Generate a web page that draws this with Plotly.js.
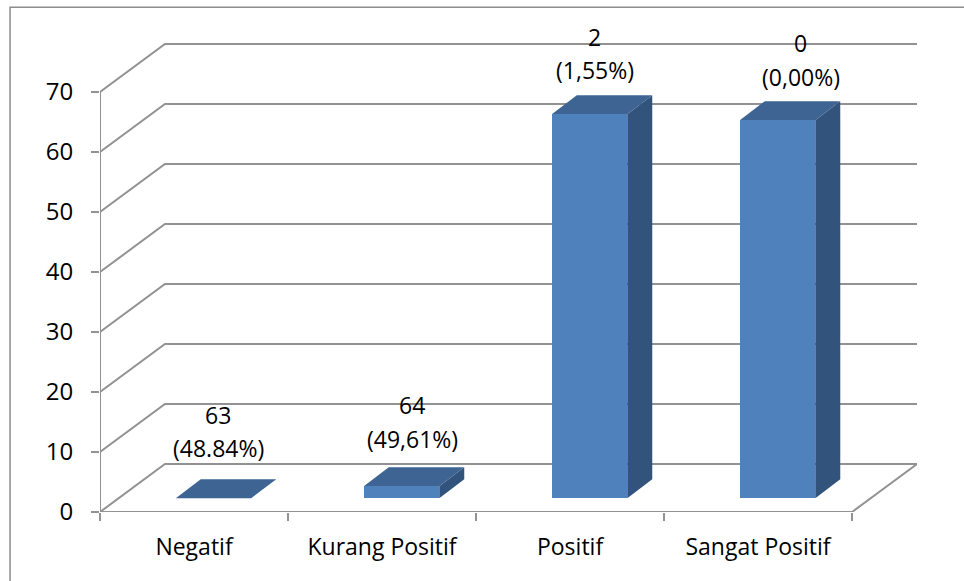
<!DOCTYPE html>
<html>
<head>
<meta charset="utf-8">
<script src="https://cdn.plot.ly/plotly-3.0.1.min.js"></script>
<style>html,body{margin:0;padding:0;background:#fff}</style>
</head>
<body>
<div id="chart" style="width:964px;height:581px"></div>
<script>
// Data
const categories = ["Negatif", "Kurang Positif", "Positif", "Sangat Positif"];
const values = [0, 2, 64, 63];
const countLabels = ["63", "64", "2", "0"];
const percentLabels = ["(48.84%)", "(49,61%)", "(1,55%)", "(0,00%)"];
const gridValues = [0, 10, 20, 30, 40, 50, 60, 70];

// Appearance of the drawn pseudo-3D box (axis units)
const wallDx = 0.3455, wallDy = 8;      // depth of the back wall
const barDx = 0.133, barDy = 3.17;      // depth of a bar
const barBase = 2.3, barWidth = 0.4014, barOffset = -0.097;
const labelDx = [0.129, 0.161, 0.132, 0.226]; // label offset from category centre
const countDy = [16.15, 17.85, 79.15, 78.15];     // label height, axis units
const percentDy = [10.65, 12.15, 73.65, 72.55];
const lineColor = "#929292", front = "#4f81bd", topFace = "#3d6492", sideFace = "#32537b";
const textFont = "'Open Sans', sans-serif";

const traces = [];
// gridlines with their receding side-wall segment
gridValues.forEach(v => traces.push({
  type: "scatter", mode: "lines", xaxis: "x", yaxis: "y", cliponaxis: false, hoverinfo: "skip",
  x: [-0.5, -0.5 + wallDx, 3.5 + wallDx], y: [v, v + wallDy, v + wallDy],
  line: {color: lineColor, width: 2}
}));
// floor outline and axis lines
traces.push({type: "scatter", mode: "lines", xaxis: "x", yaxis: "y", cliponaxis: false, hoverinfo: "skip",
  x: [-0.5, 3.5, 3.5 + wallDx], y: [0, 0, wallDy], line: {color: lineColor, width: 2}});
traces.push({type: "scatter", mode: "lines", xaxis: "x", yaxis: "y", cliponaxis: false, hoverinfo: "skip",
  x: [-0.5, -0.5], y: [0, 70], line: {color: lineColor, width: 2}});
// bar side and top faces
values.forEach((v, i) => {
  const l = i + barOffset, r = l + barWidth, b = barBase, t = barBase + v;
  traces.push({type: "scatter", mode: "lines", fill: "toself", fillcolor: sideFace, xaxis: "x", yaxis: "y",
    hoverinfo: "skip", cliponaxis: false, line: {width: 0, color: sideFace},
    x: [r, r + barDx, r + barDx, r, r], y: [b, b + barDy, t + barDy, t, b]});
  traces.push({type: "scatter", mode: "lines", fill: "toself", fillcolor: topFace, xaxis: "x", yaxis: "y",
    hoverinfo: "skip", cliponaxis: false, line: {width: 0, color: topFace},
    x: [l, r, r + barDx, l + barDx, l], y: [t, t, t + barDy, t + barDy, t]});
});
// bar front faces
traces.push({type: "bar", xaxis: "x2", yaxis: "y", x: categories, y: values, base: barBase,
  width: barWidth, offset: barOffset, marker: {color: front, line: {width: 0}}, hoverinfo: "x+y"});

const annotations = [];
categories.forEach((c, i) => {
  annotations.push({xref: "x", yref: "y", x: i + labelDx[i], y: countDy[i], text: countLabels[i],
    showarrow: false, font: {family: textFont, size: 23, color: "#000"}});
  annotations.push({xref: "x", yref: "y", x: i + labelDx[i], y: percentDy[i], text: percentLabels[i],
    showarrow: false, font: {family: textFont, size: 23, color: "#000"}});
});

const xRange = [-0.5, 3.5 + wallDx];
const layout = {
  width: 964, height: 581, showlegend: false, paper_bgcolor: "#fff", plot_bgcolor: "#fff",
  margin: {l: 99.5, r: 47.3, t: 20.3, b: 68.7, pad: 0},
  bargap: 0,
  xaxis: {type: "linear", range: xRange, visible: false, fixedrange: true},
  xaxis2: {type: "category", overlaying: "x", anchor: "y", side: "bottom", range: xRange,
    categoryorder: "array", categoryarray: categories, tickson: "boundaries",
    ticks: "outside", ticklen: 8, tickwidth: 2, tickcolor: lineColor, showgrid: false, showline: false,
    zeroline: false, ticklabelstandoff: 19, tickfont: {family: textFont, size: 23, color: "#000"}},
  yaxis: {range: [0, 82], tickvals: gridValues, ticks: "outside", ticklen: 8, tickwidth: 2,
    tickcolor: lineColor, showgrid: false, showline: false, zeroline: false, ticklabelstandoff: 13,
    tickfont: {family: textFont, size: 24, color: "#000"}},
  shapes: [{type: "path", xref: "paper", yref: "paper", path: "M -0.1101 -0.3 L -0.1101 1.026 L 1.1 1.026",
    line: {color: "#8c8c8c", width: 1.5}}],
  annotations: annotations
};
Plotly.newPlot("chart", traces, layout, {displayModeBar: false, staticPlot: true});
</script>
</body>
</html>
